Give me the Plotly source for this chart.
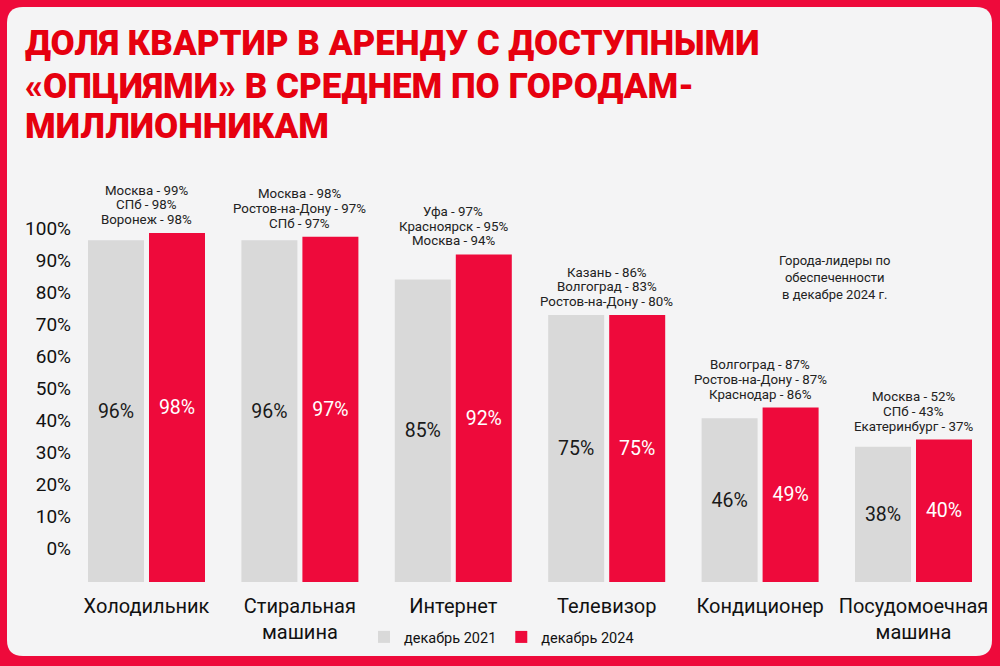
import plotly.graph_objects as go

categories = ["Холодильник", "Стиральная<br>машина", "Интернет", "Телевизор", "Кондиционер", "Посудомоечная<br>машина"]
dec_2021 = [96, 96, 85, 75, 46, 38]
dec_2024 = [98, 97, 92, 75, 49, 40]
leaders = [
    ["Москва - 99%", "СПб - 98%", "Воронеж - 98%"],
    ["Москва - 98%", "Ростов-на-Дону - 97%", "СПб - 97%"],
    ["Уфа - 97%", "Красноярск - 95%", "Москва - 94%"],
    ["Казань - 86%", "Волгоград - 83%", "Ростов-на-Дону - 80%"],
    ["Волгоград - 87%", "Ростов-на-Дону - 87%", "Краснодар - 86%"],
    ["Москва - 52%", "СПб - 43%", "Екатеринбург - 37%"],
]
tick_values = [0, 10, 20, 30, 40, 50, 60, 70, 80, 90, 100]
tick_labels = [f"{v}%" for v in tick_values]
title_lines = ["ДОЛЯ КВАРТИР В АРЕНДУ С ДОСТУПНЫМИ", "«ОПЦИЯМИ» В СРЕДНЕМ ПО ГОРОДАМ-", "МИЛЛИОННИКАМ"]
side_note = "Города-лидеры по<br>обеспеченности<br>в декабре 2024 г."

W, H = 1000, 666
RED = "#ee0a3b"
GRAY = "#d9d9d9"
PANEL = "#f4f4f5"
FONT = "Roboto, Inter, sans-serif"

def px(x):
    return x / W

def py(y):
    return 1 - y / H

xs = list(range(len(categories)))
step = 153.4
bw = 56 / step

fig = go.Figure()
fig.add_trace(go.Bar(
    x=xs, y=dec_2021, name="декабрь 2021", marker=dict(color=GRAY, line=dict(width=0)),
    width=bw, offset=-(56 + 2.5) / step,
    text=[f"{v}%" for v in dec_2021], textposition="inside", insidetextanchor="middle",
    textangle=0, textfont=dict(color="#1a1a1a", size=19.5, family=FONT),
    hoverinfo="skip",
))
fig.add_trace(go.Bar(
    x=xs, y=dec_2024, name="декабрь 2024", marker=dict(color=RED, line=dict(width=0)),
    width=bw, offset=2.5 / step,
    text=[f"{v}%" for v in dec_2024], textposition="inside", insidetextanchor="middle",
    textangle=0, textfont=dict(color="white", size=19.5, family=FONT),
    hoverinfo="skip",
))
# invisible trace to carry the decorative percentage axis
fig.add_trace(go.Scatter(x=[0], y=[0], yaxis="y2", mode="markers",
                         marker=dict(opacity=0), showlegend=False, hoverinfo="skip"))

y_bottom, y_top = 582, 192
dom = [py(y_bottom), py(y_top)]
plot_h = y_bottom - y_top

fig.update_layout(
    width=W, height=H,
    margin=dict(l=0, r=0, t=0, b=0),
    paper_bgcolor=RED,
    plot_bgcolor="rgba(0,0,0,0)",
    barmode="overlay",
    showlegend=True,
    legend=dict(orientation="h", x=0.364, y=py(637), xanchor="left", yanchor="middle",
                font=dict(size=14.5, family=FONT, color="#111"), bgcolor="rgba(0,0,0,0)",
                itemwidth=30, traceorder="normal"),
    xaxis=dict(domain=[0, 1], range=[-146.5 / step, 5 + 86.5 / step],
               tickvals=xs, ticktext=categories, showgrid=False, zeroline=False,
               showline=False, ticks="outside", ticklen=6, tickcolor="rgba(0,0,0,0)",
               tickfont=dict(size=20, family=FONT, color="#111")),
    yaxis=dict(domain=dom, range=[0, plot_h / 356 * 100], visible=False, fixedrange=True),
    yaxis2=dict(domain=dom, overlaying="y", anchor="free", position=0.071,
                range=[-34 / 3.2, -34 / 3.2 + plot_h / 3.2],
                tickvals=tick_values, ticktext=tick_labels, showgrid=False, zeroline=False,
                showline=False, ticks="", tickfont=dict(size=19, family=FONT, color="#111")),
)

# light inner panel with rounded corners
x0, x1, y0, y1, r = 7, 992, 7, 656, 16
path = (f"M {px(x0 + r)},{py(y0)} L {px(x1 - r)},{py(y0)} Q {px(x1)},{py(y0)} {px(x1)},{py(y0 + r)} "
        f"L {px(x1)},{py(y1 - r)} Q {px(x1)},{py(y1)} {px(x1 - r)},{py(y1)} "
        f"L {px(x0 + r)},{py(y1)} Q {px(x0)},{py(y1)} {px(x0)},{py(y1 - r)} "
        f"L {px(x0)},{py(y0 + r)} Q {px(x0)},{py(y0)} {px(x0 + r)},{py(y0)} Z")
fig.add_shape(type="path", path=path, xref="paper", yref="paper",
              fillcolor=PANEL, line=dict(width=0), layer="below")

annotations = []
for i, (a, b, lines) in enumerate(zip(dec_2021, dec_2024, leaders)):
    n = len(lines)
    for k, line in enumerate(lines):
        annotations.append(dict(x=i, y=max(a, b), xref="x", yref="y", text=line, showarrow=False,
                                xanchor="center", yanchor="bottom", yshift=4 + (n - 1 - k) * 14.7,
                                font=dict(size=13.3, family=FONT, color="#222")))
for line, yc in zip(title_lines, [44, 86.5, 127]):
    annotations.append(dict(x=px(23), y=py(yc), xref="paper", yref="paper", text=line,
                            showarrow=False, xanchor="left", yanchor="middle",
                            font=dict(size=35, family="Roboto, Inter, sans-serif",
                                      color="#e6000f", weight=900)))
annotations.append(dict(x=px(835), y=py(277), xref="paper", yref="paper", text=side_note,
                        showarrow=False, xanchor="center", yanchor="middle",
                        font=dict(size=13, family=FONT, color="#222")))
fig.update_layout(annotations=annotations)

fig.write_html("out.html", config={"displayModeBar": False},
               post_script="document.body.style.margin='0';document.body.style.overflow='hidden';")
